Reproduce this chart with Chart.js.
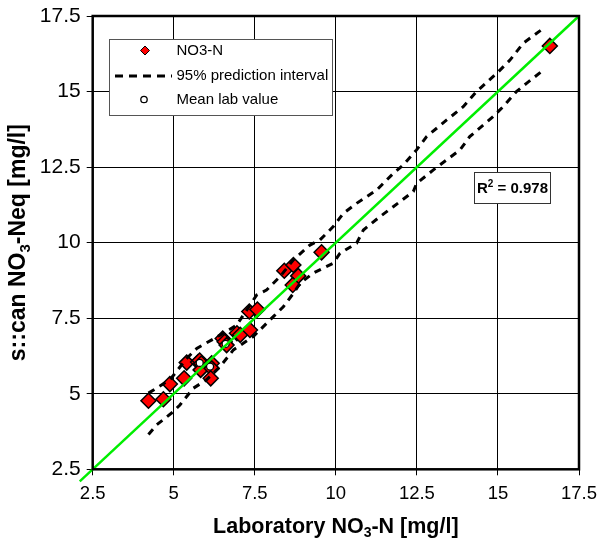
<!DOCTYPE html>
<html>
<head>
<meta charset="utf-8">
<script src="https://cdn.jsdelivr.net/npm/chart.js@4"></script>
<style>
  html, body { margin: 0; padding: 0; background: #fff; }
  #wrap { width: 600px; height: 543px; position: relative; }
</style>
</head>
<body>
<div id="wrap"><canvas id="c"></canvas></div>
<script>
// ---- data ----
const tickValues = [2.5, 5, 7.5, 10, 12.5, 15, 17.5];
const labX  = [4.22, 4.68, 4.88, 5.32, 5.40, 5.75, 5.80, 5.85, 5.83, 6.17, 6.17, 6.14, 6.51, 6.57, 6.63, 6.95, 7.05, 7.35, 7.33, 7.58, 8.41, 8.69, 8.84, 8.67, 9.56, 16.60];
const scanY = [4.77, 4.82, 5.32, 5.51, 6.03, 6.05, 6.10, 6.00, 5.79, 6.01, 5.84, 5.51, 6.83, 6.72, 6.61, 7.00, 6.95, 7.11, 7.72, 7.79, 9.07, 9.26, 8.90, 8.60, 9.68, 16.51];
const meanLabX = [6.60, 6.12, 5.80];
const meanLabY = [6.65, 5.90, 6.02];
const upperX = [4.22, 4.88, 5.40, 5.71, 6.53, 6.94, 7.56, 7.86, 8.28, 8.69, 9.20, 9.51, 9.92, 10.23, 10.64, 11.26, 11.77, 12.08, 12.49, 12.80, 13.42, 13.93, 14.34, 14.96, 15.37, 15.78, 16.40];
const upperY = [5.02, 5.46, 6.17, 6.50, 7.00, 7.27, 8.27, 8.43, 8.88, 9.43, 9.92, 10.09, 10.53, 10.97, 11.30, 11.74, 12.29, 12.57, 13.07, 13.51, 14.06, 14.50, 15.00, 15.60, 16.04, 16.60, 17.09];
const lowerX = [4.22, 4.47, 4.99, 5.19, 5.60, 6.01, 6.43, 6.84, 7.45, 8.07, 8.38, 8.69, 8.89, 9.30, 9.92, 10.13, 10.64, 10.85, 11.36, 11.77, 12.39, 12.49, 13.00, 13.42, 13.83, 14.13, 14.85, 15.16, 15.57, 15.88, 16.40];
const lowerY = [3.65, 3.97, 4.41, 4.63, 5.18, 5.46, 5.90, 6.45, 6.89, 7.55, 7.88, 8.32, 8.65, 8.99, 9.32, 9.65, 9.98, 10.42, 10.86, 11.19, 11.69, 11.96, 12.40, 12.74, 13.07, 13.51, 14.17, 14.50, 15.00, 15.27, 15.71];
const fitX = [2.1, 17.5];
const fitY = [2.1, 17.5];
const r2Text = '0.978';

const zip = (xs, ys) => xs.map((x, i) => ({ x: x, y: ys[i] }));
const FONT = "'Liberation Sans', Arial, sans-serif";

function drawParts(ctx, parts, cx, cy, size, bold) {
  const w = bold ? 'bold ' : '';
  let total = 0;
  parts.forEach(p => {
    ctx.font = w + (p[1] ? Math.round(size * 0.65) : size) + 'px ' + FONT;
    total += ctx.measureText(p[0]).width;
  });
  let x = cx - total / 2;
  ctx.textBaseline = 'middle';
  ctx.textAlign = 'left';
  parts.forEach(p => {
    ctx.font = w + (p[1] ? Math.round(size * 0.65) : size) + 'px ' + FONT;
    const dy = p[1] === 'sub' ? size * 0.28 : (p[1] === 'sup' ? -size * 0.3 : 0);
    ctx.fillText(p[0], x, cy + dy);
    x += ctx.measureText(p[0]).width;
  });
}

const decorPlugin = {
  id: 'decor',
  afterDraw(chart) {
    const ctx = chart.ctx;
    const a = chart.chartArea;
    ctx.save();
    // plot frame
    ctx.strokeStyle = '#000';
    ctx.lineWidth = 2.5;
    ctx.strokeRect(a.left, a.top, a.right - a.left, a.bottom - a.top);

    // legend box
    ctx.fillStyle = '#fff';
    ctx.fillRect(109, 39, 223, 76);
    ctx.strokeStyle = '#555';
    ctx.lineWidth = 1;
    ctx.strokeRect(109.5, 39.5, 223, 76);
    // diamond
    ctx.fillStyle = '#ff0000';
    ctx.strokeStyle = '#000';
    ctx.lineWidth = 1;
    ctx.beginPath();
    ctx.moveTo(145, 46); ctx.lineTo(149.5, 50.5); ctx.lineTo(145, 55); ctx.lineTo(140.5, 50.5); ctx.closePath();
    ctx.fill(); ctx.stroke();
    // dashed sample
    ctx.setLineDash([8, 6]);
    ctx.lineWidth = 3;
    ctx.beginPath(); ctx.moveTo(115, 76); ctx.lineTo(172, 76); ctx.stroke();
    ctx.setLineDash([]);
    // circle
    ctx.fillStyle = '#fff';
    ctx.lineWidth = 1.3;
    ctx.beginPath(); ctx.arc(144, 99.5, 3.2, 0, Math.PI * 2); ctx.fill(); ctx.stroke();
    ctx.fillStyle = '#000';
    ctx.font = '15px ' + FONT;
    ctx.textAlign = 'left';
    ctx.textBaseline = 'middle';
    ctx.fillText('NO3-N', 176.5, 51);
    ctx.fillText('95% prediction interval', 176.5, 75.5);
    ctx.fillText('Mean lab value', 176.5, 99.5);

    // R2 box
    ctx.fillStyle = '#fff';
    ctx.fillRect(474, 172, 76, 31);
    ctx.strokeStyle = '#333';
    ctx.lineWidth = 1;
    ctx.strokeRect(474.5, 172.5, 76, 31);
    ctx.fillStyle = '#000';
    drawParts(ctx, [['R', false], ['2', 'sup'], [' = ' + r2Text, false]], 512.5, 188.5, 15, true);

    // axis titles
    ctx.fillStyle = '#000';
    drawParts(ctx, [['Laboratory NO', false], ['3', 'sub'], ['-N [mg/l]', false]], (a.left + a.right) / 2, 527, 21.5, true);
    ctx.save();
    ctx.translate(19, (a.top + a.bottom) / 2);
    ctx.rotate(-Math.PI / 2);
    drawParts(ctx, [['s::can NO', false], ['3', 'sub'], ['-Neq [mg/l]', false]], 0, 0, 23, true);
    ctx.restore();
    ctx.restore();
  }
};

const tickSetter = (scale) => { scale.ticks = tickValues.map(v => ({ value: v })); };

new Chart(document.getElementById('c'), {
  type: 'scatter',
  data: {
    datasets: [
      { label: 'fit', data: zip(fitX, fitY), showLine: true, borderColor: '#00ee00', borderWidth: 2.5, pointRadius: 0, clip: false, order: 0 },
      { label: 'Mean lab value', data: zip(meanLabX, meanLabY), pointStyle: 'circle', pointRadius: 3.5, backgroundColor: '#fff', borderColor: '#000', borderWidth: 1.3, order: 1 },
      { label: 'upper', data: zip(upperX, upperY), showLine: true, borderColor: '#000', borderWidth: 3, borderDash: [7, 6], pointRadius: 0, order: 2 },
      { label: 'lower', data: zip(lowerX, lowerY), showLine: true, borderColor: '#000', borderWidth: 3, borderDash: [7, 6], pointRadius: 0, order: 2 },
      { label: 'NO3-N', data: zip(labX, scanY), pointStyle: 'rectRot', pointRadius: 7.5, backgroundColor: '#ff0000', borderColor: '#000', borderWidth: 1.5, order: 3 }
    ]
  },
  options: {
    responsive: true,
    maintainAspectRatio: false,
    animation: false,
    layout: { padding: { left: 0, right: 21, top: 16, bottom: 0 } },
    plugins: { legend: { display: false }, tooltip: { enabled: false } },
    elements: { point: { hoverRadius: 7.5 } },
    scales: {
      x: {
        type: 'linear', min: 2.5, max: 17.5,
        afterBuildTicks: tickSetter,
        afterFit: (s) => { s.height = 543 - 469.3; s.paddingLeft = 0; s.paddingRight = 0; },
        grid: { color: '#000', lineWidth: 1, tickLength: 6, tickColor: '#000' },
        border: { display: false },
        ticks: { font: { family: FONT, size: 18.5 }, color: '#000', padding: 8, maxRotation: 0 }
      },
      y: {
        type: 'linear', min: 2.5, max: 17.5,
        afterBuildTicks: tickSetter,
        afterFit: (s) => { s.width = 92.7; s.paddingTop = 0; s.paddingBottom = 0; },
        grid: { color: '#000', lineWidth: 1, tickLength: 6, tickColor: '#000' },
        border: { display: false },
        ticks: { font: { family: FONT, size: 21 }, color: '#000', padding: 6 }
      }
    }
  },
  plugins: [decorPlugin]
});
</script>
</body>
</html>
